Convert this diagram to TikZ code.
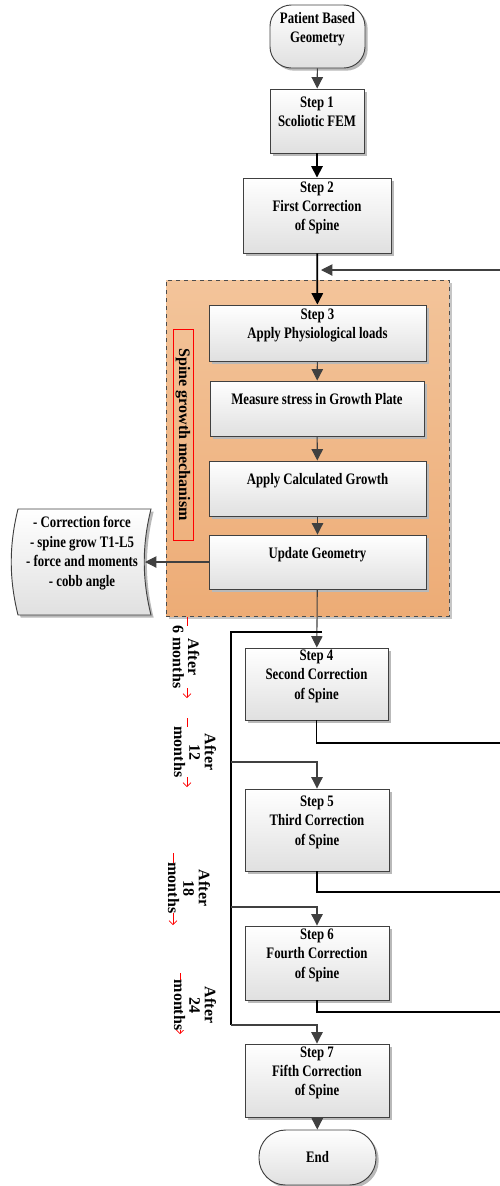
\documentclass[tikz,border=0pt]{standalone}
\usepackage{fontspec}
\setmainfont{Liberation Serif}[FakeStretch=0.8]
\newfontfamily\sidefont{Liberation Serif}
\usepackage{tikz}
\usetikzlibrary{positioning,arrows.meta,calc,shadows}
\definecolor{linegrey}{RGB}{64,64,64}
\definecolor{grouptop}{RGB}{243,196,154}
\definecolor{groupbot}{RGB}{237,172,118}
\definecolor{boxbot}{RGB}{224,224,224}
\tikzset{
  flowarrow/.style={-{Triangle[length=8.5pt,width=8.5pt]}, draw=linegrey, line width=0.8pt},
  mainarrow/.style={-{Triangle[length=8.5pt,width=8.5pt]}, draw=black, line width=1.3pt},
  loopline/.style={draw=black, line width=1pt},
  boxbase/.style={draw=linegrey, line width=0.7pt, top color=white, bottom color=boxbot, align=center,
    drop shadow={shadow xshift=2pt, shadow yshift=-2pt, fill=gray!55, opacity=1},
    font=\fontsize{12}{14.4}\selectfont\bfseries},
  stepbox/.style={boxbase, inner sep=1pt, text depth=14pt},
  startbox/.style={stepbox, rounded corners=16pt},
  endbox/.style={boxbase, rounded corners=20pt},
  groupbox/.style={draw=gray!60!black, dashed, line width=0.6pt, top color=grouptop, bottom color=groupbot,
    drop shadow={shadow xshift=2pt, shadow yshift=-2pt, fill=gray!45, opacity=1}},
  databox/.style={draw=linegrey, line width=0.7pt, top color=white, bottom color=boxbot,
    drop shadow={shadow xshift=2pt, shadow yshift=-2pt, fill=gray!55, opacity=1}},
  tagbox/.style={draw=red, line width=0.6pt, rotate=-90, inner sep=0pt, font=\sidefont\fontsize{12}{14}\selectfont\bfseries},
  timelabel/.style={fill=white, inner sep=0pt, rotate=-90, align=center, font=\sidefont\fontsize{12}{11.5}\selectfont\bfseries},
  timearrow/.style={draw=red, line width=0.5pt, -{Straight Barb[length=3pt,width=6pt]}}
}
\begin{document}
\begin{tikzpicture}[x=0.75pt, y=-0.75pt]
  \useasboundingbox (0,0) rectangle (500,1186);
  % growth loop frame
  \node[groupbox, minimum width=212.25pt, minimum height=252pt] (growth) at (307.5,448) {};
  \node[tagbox, minimum width=158.25pt, minimum height=15pt] (tag) at (183,434.5) {Spine growth mechanism};
  % main steps
  \node[startbox, minimum width=71.25pt, minimum height=47.25pt] (start) at (317.5,36.5) {Patient Based\\Geometry};
  \node[stepbox, minimum width=70.5pt, minimum height=48pt] (step1) at (317,121) {Step 1\\Scoliotic FEM};
  \node[stepbox, minimum width=111pt, minimum height=56.25pt] (step2) at (317,215.5) {Step 2\\First Correction\\of Spine};
  \node[stepbox, minimum width=162.75pt, minimum height=42pt] (step3) at (317.5,333) {Step 3\\Apply Physiological loads};
  \node[stepbox, minimum width=160.5pt, minimum height=41.25pt] (stress) at (317,408.5) {Measure stress in Growth Plate};
  \node[stepbox, minimum width=162.75pt, minimum height=41.25pt] (grow) at (317.5,488.5) {Apply Calculated Growth};
  \node[stepbox, minimum width=162.75pt, minimum height=40.5pt] (update) at (317.5,562) {Update Geometry};
  \node[stepbox, minimum width=107.25pt, minimum height=54pt] (step4) at (316.5,684) {Step 4\\Second Correction\\of Spine};
  \node[stepbox, minimum width=108pt, minimum height=61.5pt] (step5) at (317,830) {Step 5\\Third Correction\\of Spine};
  \node[stepbox, minimum width=108pt, minimum height=55.5pt] (step6) at (317,963) {Step 6\\Fourth Correction\\of Spine};
  \node[stepbox, minimum width=108pt, minimum height=54.75pt] (step7) at (317,1080.5) {Step 7\\Fifth Correction\\of Spine};
  \node[endbox, minimum width=87.75pt, minimum height=41.25pt] (finish) at (317.5,1157.5) {End};
  % results shape
  \draw[databox] (18,509) -- (151,509) .. controls (142,545) and (142,579) .. (151,615)
    -- (18,615) .. controls (9,579) and (9,545) .. (18,509) -- cycle;
  \node[align=center, font=\fontsize{12}{14.6}\selectfont\bfseries] (results) at (82,553)
    {- Correction force\\- spine grow T1-L5\\- force and moments\\- cobb angle};
  \coordinate (restip) at (145,562);
  % flow
  \draw[flowarrow] (start) -- (step1);
  \draw[mainarrow] (step1) -- (step2);
  \draw[mainarrow] (step2) -- (step3);
  \draw[flowarrow] (step3) -- (stress);
  \draw[flowarrow] (stress) -- (grow);
  \draw[flowarrow] (grow) -- (update);
  \draw[flowarrow] (update.west) -- (restip);
  \draw[flowarrow] (update) -- (step4);
  \draw[flowarrow] (step7) -- (finish);
  % return lines to the loop
  \coordinate (ret2) at (500,270);
  \coordinate (merge) at (321,270);
  \coordinate (ret4) at (500,743);
  \coordinate (ret5) at (500,892);
  \coordinate (ret6) at (500,1012);
  \draw[flowarrow] (ret2) -- (merge);
  \draw[loopline] (step4.south) |- (ret4);
  \draw[loopline] (step5.south) |- (ret5);
  \draw[loopline] (step6.south) |- (ret6);
  % time rail
  \coordinate (tap4) at (322,632);
  \coordinate (rail) at (231,632);
  \coordinate (br5) at (231,762);
  \coordinate (br6) at (231,907);
  \coordinate (br7) at (231,1025);
  \draw[loopline] (tap4) -- (rail) -- (br7);
  \draw[flowarrow] (br5) -| (step5.north);
  \draw[flowarrow] (br6) -| (step6.north);
  \draw[flowarrow] (br7) -| (step7.north);
  % time labels
  \coordinate (t6a) at (187,617);  \coordinate (t6b) at (187,698);
  \coordinate (t12a) at (187,718); \coordinate (t12b) at (187,787);
  \coordinate (t18a) at (173,853); \coordinate (t18b) at (173,925);
  \coordinate (t24a) at (180,973); \coordinate (t24b) at (180,1034);
  \draw[timearrow] (t6a) -- (t6b);
  \draw[timearrow] (t12a) -- (t12b);
  \draw[timearrow] (t18a) -- (t18b);
  \draw[timearrow] (t24a) -- (t24b);
  \node[timelabel] (after6) at (186,657) {After\\6 months};
  \node[timelabel] (after12) at (195,752) {After\\12\\months};
  \node[timelabel] (after18) at (189,888) {After\\18\\months};
  \node[timelabel] (after24) at (195,1005) {After\\24\\months};
\end{tikzpicture}
\end{document}
